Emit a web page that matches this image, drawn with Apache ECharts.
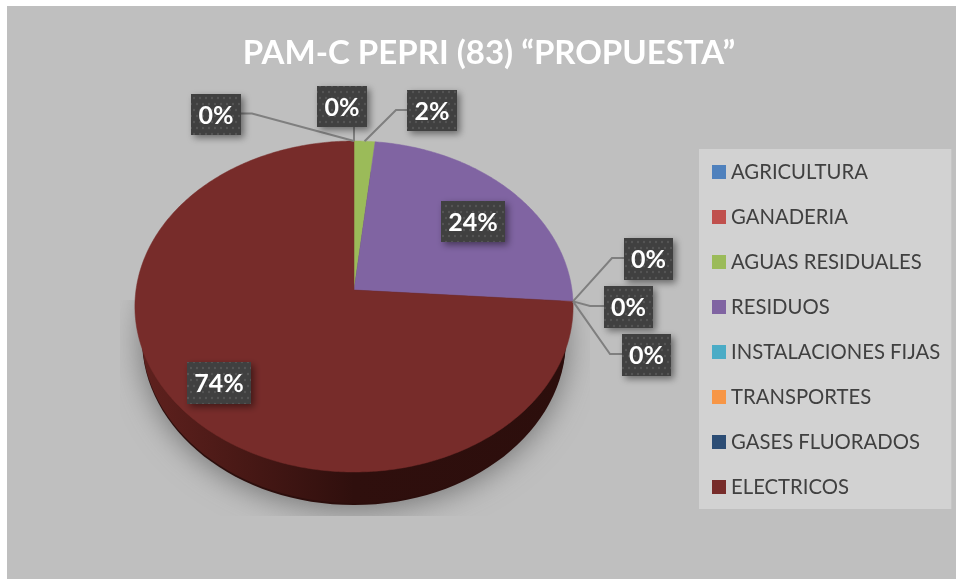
<!DOCTYPE html>
<html><head><meta charset="utf-8">
<style>html,body{margin:0;padding:0;background:#fff}#c{width:956px;height:579px}</style>
<script src="https://cdn.jsdelivr.net/npm/echarts@6/dist/echarts.min.js"></script>
</head><body><div id="c"></div>
<script>
const categories = ['AGRICULTURA','GANADERIA','AGUAS RESIDUALES','RESIDUOS','INSTALACIONES FIJAS','TRANSPORTES','GASES FLUORADOS','ELECTRICOS'];
const values = [0, 0, 1.7, 24.4, 0, 0, 0, 73.9];
const colors = ['#4f81bd','#c0504d','#9bbb59','#8064a2','#4bacc6','#f79646','#2c4d75','#772c2a'];
const labelText = ['0%','0%','2%','24%','0%','0%','0%','74%'];
// label boxes: [x, y, w, h], and leader elbow (null when the label sits on its slice)
const labelBox = [[191,94,50,41],[317,86,50,41],[407,90,50,41],[441,201,64,41],[624,238,49,42],[604,286,49,42],[622,334,49,42],[187,362,64,42]];
const leaderPath = [[[241,113.5],[252,113.5]],[[354,127],[354,127]],[[407,110],[396,110]],null,[[624,258],[612,258]],[[604,306],[590,306]],[[622,354],[610,354]],null];

// perspective disc
const apex = [354, 290], rx0 = 218, A = 163.85, K = -0.0997;
function project(t, r) {
  const x = r * Math.sin(t), y = -r * Math.cos(t), d = 1 + K * y;
  return [apex[0] + rx0 * x / d, apex[1] + A * y / d];
}
const total = values.reduce((a, b) => a + b, 0);
function sliceRange(i) {
  let s = 0; for (let k = 0; k < i; k++) s += values[k];
  return [s / total * 2 * Math.PI, (s + values[i]) / total * 2 * Math.PI];
}

// dotted label texture
const tex = document.createElement('canvas'); tex.width = 12; tex.height = 12;
(function () {
  const g = tex.getContext('2d');
  g.fillStyle = '#404040'; g.fillRect(0, 0, 12, 12);
  g.fillStyle = '#555555';
  [[2, 2], [8, 2], [5, 8], [11, 8]].forEach(p => { g.beginPath(); g.arc(p[0], p[1], 1.2, 0, 7); g.fill(); });
})();

function sliceItem(i, params, api) {
  const kids = [], color = api.visual('color');
  const [a, b] = sliceRange(i), v = api.value(0);
  if (v > 0) {
    const pts = [project(0, 0)], n = Math.max(2, Math.ceil((b - a) * 90));
    for (let k = 0; k <= n; k++) pts.push(project(a + (b - a) * k / n, 1));
    kids.push({ type: 'polygon', shape: { points: pts }, style: { fill: color, stroke: color, lineWidth: 0.5 }, z2: 10 });
  }
  const box = labelBox[i], path = leaderPath[i];
  if (path) {
    const end = project((a + b) / 2, 1);
    kids.push({ type: 'polyline', shape: { points: [path[0], path[1], end] }, style: { fill: null, stroke: '#7f7f7f', lineWidth: 2 }, z2: 20 });
  }
  kids.push({ type: 'rect', shape: { x: box[0], y: box[1], width: box[2], height: box[3] },
    style: { fill: { image: tex, repeat: 'repeat' }, shadowBlur: 7, shadowColor: 'rgba(0,0,0,0.45)', shadowOffsetX: 3, shadowOffsetY: 3 }, z2: 30 });
  kids.push({ type: 'text', x: box[0] + box[2] / 2, y: box[1] + box[3] / 2 + 1,
    style: { text: labelText[i], fill: '#fff', font: 'bold 25px Lato', align: 'center', verticalAlign: 'middle' }, z2: 31 });
  return { type: 'group', children: kids };
}

function baseItem() {
  return { type: 'group', children: [
    { type: 'ellipse', shape: { cx: 354, cy: 339, rx: 212, ry: 166 },
      style: { fill: '#2c0e0c', shadowBlur: 30, shadowColor: '#747474', shadowOffsetY: 4 }, z2: 1,
      clipPath: { type: 'rect', shape: { x: 120, y: 300, width: 470, height: 216 } } },
    { type: 'ellipse', shape: { cx: 354, cy: 337, rx: 212, ry: 166 },
      style: { fill: { type: 'linear', x: 0, y: 0, x2: 1, y2: 0, colorStops: [
        { offset: 0, color: '#5f211e' }, { offset: 0.25, color: '#471815' }, { offset: 0.5, color: '#2f0f0d' }, { offset: 1, color: '#2c0e0c' }] } }, z2: 2 }
  ] };
}

const series = [{ type: 'custom', name: '__base', coordinateSystem: 'none', data: [[0]], renderItem: baseItem, silent: true }]
  .concat(categories.map((name, i) => ({
    type: 'custom', name, coordinateSystem: 'none',
    itemStyle: { color: colors[i] },
    data: [[values[i]]],
    renderItem: (p, api) => sliceItem(i, p, api)
  })));

const chart = echarts.init(document.getElementById('c'), null, { renderer: 'canvas' });
chart.setOption({
  animation: false,
  backgroundColor: '#fff',
  graphic: [{ type: 'rect', z: -10, silent: true, shape: { x: 7, y: 6, width: 949, height: 573 }, style: { fill: '#bfbfbf' } }],
  title: { text: 'PAM-C PEPRI (83) “PROPUESTA”', left: 484, top: 32, textAlign: 'center',
    textStyle: { color: '#fff', fontFamily: 'Lato', fontWeight: 'bold', fontSize: 33 } },
  legend: { data: categories, orient: 'vertical', left: 699, top: 149, icon: 'rect', itemWidth: 14, itemHeight: 14,
    itemGap: 25, padding: [13, 11, 12, 13], backgroundColor: '#d2d2d2', selectedMode: false,
    textStyle: { color: '#404040', fontFamily: 'Lato', fontSize: 20.3 } },
  series
});
</script></body></html>
